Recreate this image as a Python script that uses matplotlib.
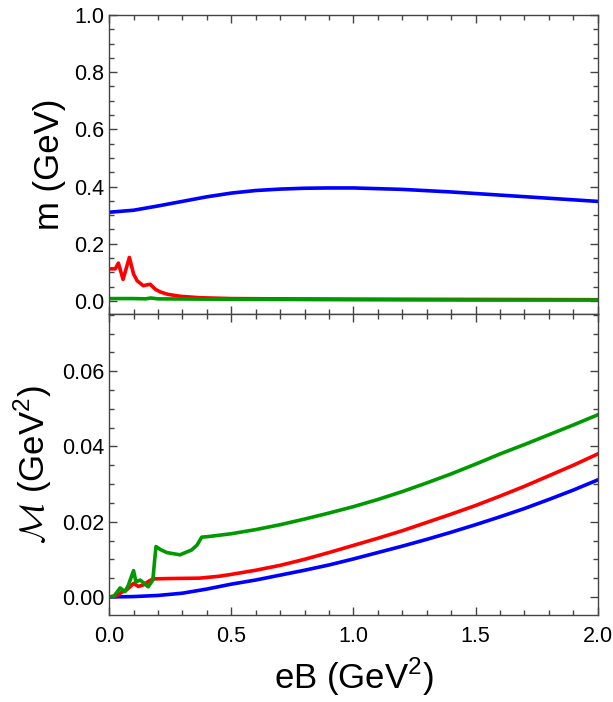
import matplotlib
matplotlib.use("Agg")
import matplotlib.pyplot as plt
from matplotlib.ticker import MultipleLocator

plt.rcParams['font.family'] = ['Liberation Sans', 'DejaVu Sans']
plt.rcParams['mathtext.fontset'] = 'custom'
plt.rcParams['mathtext.rm'] = 'Liberation Sans'
plt.rcParams['mathtext.cal'] = 'cmsy10'

# ---- top panel: m (GeV) ----
eB_m_blue = [0.0, 0.1, 0.2, 0.3, 0.4, 0.5, 0.6, 0.7, 0.8, 0.9, 1.0, 1.2, 1.4, 1.6, 1.8, 2.0]
m_blue = [0.31, 0.317, 0.332, 0.348, 0.364, 0.377, 0.386, 0.391, 0.394, 0.395, 0.395,
          0.390, 0.381, 0.370, 0.359, 0.348]

eB_m_red = [0.0, 0.025, 0.038, 0.057, 0.083, 0.1, 0.115, 0.14, 0.155, 0.168, 0.19,
            0.21, 0.24, 0.29, 0.37, 0.5, 0.7, 1.0, 1.5, 2.0]
m_red = [0.112, 0.112, 0.132, 0.075, 0.152, 0.094, 0.07, 0.053, 0.056, 0.058, 0.04,
         0.031, 0.023, 0.016, 0.011, 0.008, 0.007, 0.006, 0.005, 0.004]

eB_m_green = [0.0, 0.1, 0.15, 0.17, 0.2, 0.4, 1.0, 1.5, 2.0]
m_green = [0.008, 0.008, 0.007, 0.01, 0.007, 0.006, 0.004, 0.003, 0.003]

# ---- bottom panel: M (GeV^2) ----
eB_M_blue = [0.0, 0.1, 0.2, 0.3, 0.4, 0.5, 0.6, 0.7, 0.8, 0.9, 1.0, 1.1, 1.2, 1.3,
             1.4, 1.5, 1.6, 1.7, 1.8, 1.9, 2.0]
M_blue = [0.0, 0.0001, 0.0004, 0.001, 0.0021, 0.0034, 0.0045, 0.0058, 0.0071, 0.0085,
          0.0101, 0.0118, 0.0135, 0.0153, 0.0172, 0.0192, 0.0213, 0.0235, 0.0259,
          0.0284, 0.0311]

eB_M_red = [0.0, 0.03, 0.05, 0.072, 0.1, 0.12, 0.14, 0.16, 0.18, 0.25, 0.37, 0.45, 0.5,
            0.6, 0.7, 0.8, 0.9, 1.0, 1.1, 1.2, 1.3, 1.4, 1.5, 1.6, 1.7, 1.8, 1.9, 2.0]
M_red = [0.0, 0.0003, 0.0012, 0.0019, 0.0036, 0.0028, 0.0032, 0.0041, 0.0048, 0.0049,
         0.005, 0.0055, 0.006, 0.0071, 0.0084, 0.01, 0.0118, 0.0137, 0.0156, 0.0176,
         0.0198, 0.022, 0.0243, 0.0268, 0.0294, 0.0322, 0.035, 0.038]

eB_M_green = [0.0, 0.02, 0.045, 0.065, 0.078, 0.1, 0.11, 0.127, 0.14, 0.16, 0.179,
              0.186, 0.192, 0.21, 0.236, 0.29, 0.338, 0.36, 0.379, 0.4, 0.5, 0.6, 0.7,
              0.8, 0.9, 1.0, 1.1, 1.2, 1.3, 1.4, 1.5, 1.6, 1.7, 1.8, 1.9, 2.0]
M_green = [0.0, 0.0002, 0.0024, 0.0014, 0.003, 0.007, 0.004, 0.0045, 0.0038, 0.0027,
           0.0045, 0.0095, 0.0134, 0.0126, 0.0118, 0.0112, 0.0125, 0.0138, 0.0159,
           0.016, 0.0168, 0.0179, 0.0192, 0.0207, 0.0223, 0.024, 0.0259, 0.028,
           0.0303, 0.0327, 0.0353, 0.038, 0.0405, 0.0431, 0.0457, 0.0484]

BLUE = (0, 0, 1)
RED = (1, 0, 0)
GREEN = (0, 0.6, 0)
LW = 2.6

fig = plt.figure(figsize=(6.13, 7.02), dpi=100)
ax1 = fig.add_axes([0.178, 0.5527, 0.797, 0.4259])
ax2 = fig.add_axes([0.178, 0.1239, 0.797, 0.4288])

ax1.plot(eB_m_blue, m_blue, color=BLUE, lw=LW)
ax1.plot(eB_m_red, m_red, color=RED, lw=LW)
ax1.plot(eB_m_green, m_green, color=GREEN, lw=LW)

ax2.plot(eB_M_blue, M_blue, color=BLUE, lw=LW)
ax2.plot(eB_M_red, M_red, color=RED, lw=LW)
ax2.plot(eB_M_green, M_green, color=GREEN, lw=LW)

ax1.set_xlim(0, 2.0)
ax1.set_ylim(-0.046, 1.0)
ax2.set_xlim(0, 2.0)
ax2.set_ylim(-0.0048, 0.0752)

ax1.yaxis.set_major_locator(MultipleLocator(0.2))
ax1.yaxis.set_minor_locator(MultipleLocator(0.05))
ax2.yaxis.set_major_locator(MultipleLocator(0.02))
ax2.yaxis.set_minor_locator(MultipleLocator(0.005))
for ax in (ax1, ax2):
    ax.xaxis.set_major_locator(MultipleLocator(0.5))
    ax.xaxis.set_minor_locator(MultipleLocator(0.1))
    ax.tick_params(which='both', direction='in', top=True, right=True,
                   color='#444444', labelsize=15.5, width=1.0)
    ax.tick_params(which='major', length=6)
    ax.tick_params(which='minor', length=3.5)
    for s in ax.spines.values():
        s.set_color('#444444')
        s.set_linewidth(1.0)

ax1.tick_params(labelbottom=False)
ax1.yaxis.set_major_formatter(plt.FuncFormatter(lambda v, p: "%.1f" % v))
ax2.yaxis.set_major_formatter(plt.FuncFormatter(lambda v, p: "%.2f" % v))
ax2.xaxis.set_major_formatter(plt.FuncFormatter(lambda v, p: "%.1f" % v))
ax2.tick_params(axis='x', pad=8)

ax1.set_ylabel("m (GeV)", fontsize=25, labelpad=6)
ax2.set_ylabel(r"$\mathcal{M}$ (GeV$^2$)", fontsize=25, labelpad=6)
ax2.set_xlabel(r"eB (GeV$^2$)", fontsize=25, labelpad=6)

fig.savefig("out.png", dpi=100)
